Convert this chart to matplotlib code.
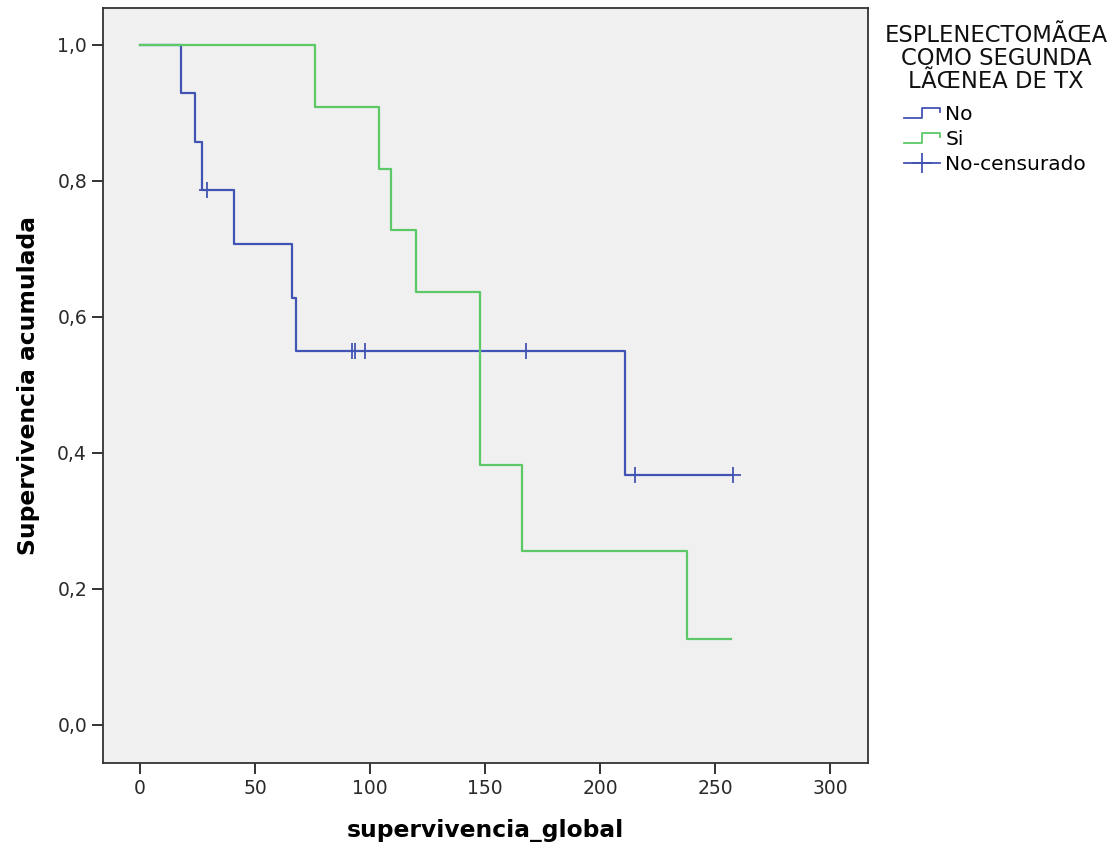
import matplotlib
matplotlib.use('Agg')
import matplotlib.pyplot as plt
from matplotlib.lines import Line2D
from matplotlib.legend_handler import HandlerBase

# Kaplan-Meier steps
no_times = [0, 18, 24, 27, 41, 66, 68, 211, 258]
no_surv = [1.0, 0.929, 0.857, 0.786, 0.707, 0.628, 0.550, 0.367, 0.367]
no_censor_t = [29, 92, 93.5, 98, 168, 215, 258]
no_censor_s = [0.786, 0.550, 0.550, 0.550, 0.550, 0.367, 0.367]

si_times = [0, 76, 104, 109, 120, 148, 166, 238, 257]
si_surv = [1.0, 0.909, 0.818, 0.727, 0.636, 0.382, 0.255, 0.127, 0.127]

xticks = [0, 50, 100, 150, 200, 250, 300]
yticks = [0.0, 0.2, 0.4, 0.6, 0.8, 1.0]
ytick_labels = ['0,0', '0,2', '0,4', '0,6', '0,8', '1,0']

legend_title = 'ESPLENECTOMÃŒA\nCOMO SEGUNDA\nLÃŒNEA DE TX'
legend_labels = ['No', 'Si', 'No-censurado']

blue = '#4154B3'
green = '#5CC866'


class StepHandler(HandlerBase):
    # legend glyph shaped like a small step
    def create_artists(self, legend, orig_handle, xdescent, ydescent,
                       width, height, fontsize, trans):
        x0, y0 = -xdescent, -ydescent
        xs = [x0, x0 + width * 0.5, x0 + width * 0.5, x0 + width, x0 + width]
        ys = [y0 + height * 0.15, y0 + height * 0.15, y0 + height * 0.85,
              y0 + height * 0.85, y0 + height * 0.55]
        ln = Line2D(xs, ys, color=orig_handle.get_color(), linewidth=1.3,
                    transform=trans)
        return [ln]


fig = plt.figure(figsize=(11.17, 8.49), dpi=100)
ax = fig.add_axes([0.0922, 0.1013, 0.6849, 0.8893])
ax.set_facecolor('#F0F0F0')

line_no, = ax.step(no_times, no_surv, where='post', color=blue, linewidth=1.6)
line_si, = ax.step(si_times, si_surv, where='post', color=green, linewidth=1.6)
ax.plot(no_censor_t, no_censor_s, linestyle='none', marker='+',
        markersize=11, markeredgewidth=1.3, color=blue)

ax.set_xlim(-16.1, 316.5)
ax.set_ylim(-0.056, 1.054)
ax.set_xticks(xticks)
ax.set_xticklabels([str(t) for t in xticks])
ax.set_yticks(yticks)
ax.set_yticklabels(ytick_labels)
ax.tick_params(axis='both', labelsize=13.5, length=8, width=1.3,
               colors='#222222', labelcolor='#2a2a2a')
for sp in ax.spines.values():
    sp.set_linewidth(1.3)
    sp.set_color('#333333')

ax.set_xlabel('supervivencia_global', fontsize=16.8, fontweight='bold',
              labelpad=15)
ax.set_ylabel('Supervivencia acumulada', fontsize=16.8, fontweight='bold',
              labelpad=12)

# legend title as its own text block, entries below it
fig.text(996 / 1117, 1 - 24 / 849, legend_title, ha='center', va='top',
         fontsize=16.3, linespacing=1.0, color='#111111')

cens_handle = Line2D([], [], color=blue, linestyle='-', linewidth=1.3,
                     marker='+', markersize=14, markeredgewidth=1.3)
leg = fig.legend([line_no, line_si, cens_handle], legend_labels,
                 handler_map={line_no: StepHandler(), line_si: StepHandler()},
                 loc='upper left', bbox_to_anchor=(904 / 1117, 1 - 105 / 849),
                 frameon=False, fontsize=14.5,
                 handlelength=1.8, handletextpad=0.25, labelspacing=0.3,
                 borderaxespad=0, borderpad=0)

plt.savefig('out.png', dpi=100)
